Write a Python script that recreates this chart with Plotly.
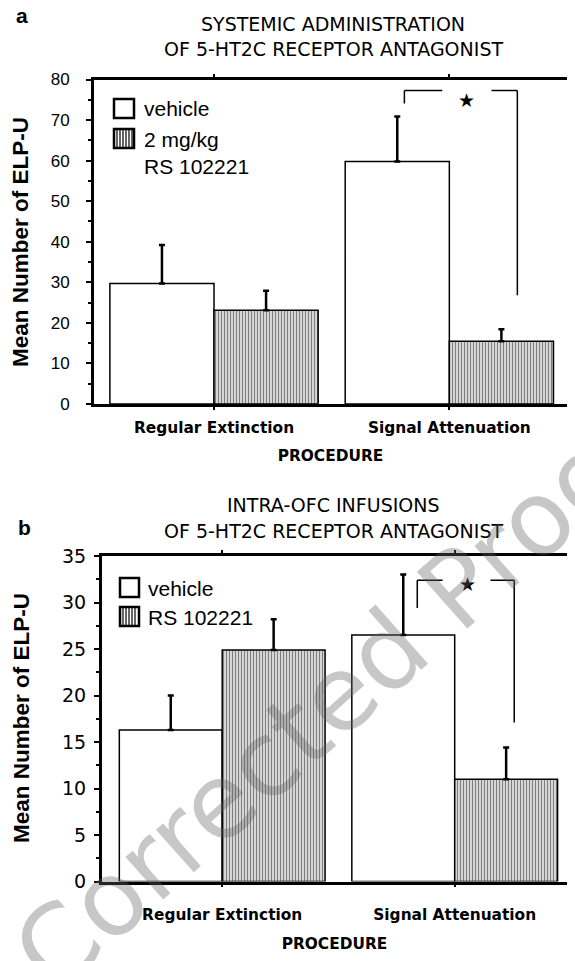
import plotly.graph_objects as go

# ---------------- data ----------------
categories = ["Regular Extinction", "Signal Attenuation"]

a_vehicle = [29.7, 59.8]
a_vehicle_err = [9.5, 11.1]
a_drug = [23.1, 15.5]
a_drug_err = [4.8, 2.9]

b_vehicle = [16.3, 26.5]
b_vehicle_err = [3.7, 6.5]
b_drug = [24.9, 11.0]
b_drug_err = [3.3, 3.4]

a_ticks = list(range(0, 81, 10))
b_ticks = list(range(0, 36, 5))

a_legend = ["vehicle", "2 mg/kg<br>RS 102221"]
b_legend = ["vehicle", "RS 102221"]

# significance brackets (x in category index units, y in data units)
a_bracket = dict(xl=0.809, xl2=0.970, xr2=1.179, xr=1.289, ytop=77.3, yl=74.1, yr=26.8, xs=1.072, ys=74.9)
b_bracket = dict(xl=0.839, xl2=0.948, xr2=1.154, xr=1.256, ytop=32.4, yl=29.4, yr=17.1, xs=1.056, ys=32.0)

W, H = 575, 961
BLACK = "black"
TICKFONT_A = dict(family="Liberation Sans, Arial", size=17, color=BLACK)
TICKFONT_B = dict(family="DejaVu Sans", size=19, color=BLACK)
CATFONT = dict(family="DejaVu Sans", size=15.4, color=BLACK, weight="bold")
TITLEFONT = dict(family="DejaVu Sans", size=19, color=BLACK)
LEGFONT = dict(family="Liberation Sans, Arial", size=21, color=BLACK)


def px_x(p):
    return p / W


def px_y(p):
    return 1 - p / H


fig = go.Figure()

stripe = dict(shape="|", size=3, solidity=0.55, fgcolor=BLACK, bgcolor="white")
err_style = dict(type="data", symmetric=False, color=BLACK, thickness=2.5, width=3)

fig.add_trace(go.Bar(x=categories, y=a_vehicle, name="vehicle", xaxis="x", yaxis="y",
                     marker=dict(color="white", line=dict(color=BLACK, width=1.5)),
                     error_y=dict(array=a_vehicle_err, arrayminus=[0, 0], **err_style)))
fig.add_trace(go.Bar(x=categories, y=a_drug, name="2 mg/kg RS 102221", xaxis="x", yaxis="y",
                     marker=dict(color="white", pattern=stripe, line=dict(color=BLACK, width=1.5)),
                     error_y=dict(array=a_drug_err, arrayminus=[0, 0], **err_style)))
fig.add_trace(go.Bar(x=categories, y=b_vehicle, name="vehicle", xaxis="x2", yaxis="y2",
                     marker=dict(color="white", line=dict(color=BLACK, width=1.5)),
                     error_y=dict(array=b_vehicle_err, arrayminus=[0, 0], **err_style)))
fig.add_trace(go.Bar(x=categories, y=b_drug, name="RS 102221", xaxis="x2", yaxis="y2",
                     marker=dict(color="white", pattern=stripe, line=dict(color=BLACK, width=1.5)),
                     error_y=dict(array=b_drug_err, arrayminus=[0, 0], **err_style)))

a_dom_x = [px_x(94), px_x(567)]
a_dom_y = [px_y(404), px_y(79.5)]
b_dom_x = [px_x(102), px_x(567)]
b_dom_y = [px_y(881.5), px_y(556)]

xcommon = dict(type="category", categoryarray=categories, showline=True, linewidth=2.5,
               linecolor=BLACK, mirror="ticks", ticks="outside", ticklen=3, tickwidth=1.5,
               tickcolor=BLACK, tickfont=CATFONT, showgrid=False, zeroline=False,
               automargin=False)
ycommon = dict(showline=True, linewidth=3, linecolor=BLACK, ticks="outside", ticklen=5,
               tickwidth=2, tickcolor=BLACK, showgrid=False,
               zeroline=False, automargin=False)
rcommon = dict(side="right", ticks="inside", ticklen=5, tickwidth=2, tickcolor=BLACK,
               showline=True, linewidth=3, linecolor=BLACK, showticklabels=False,
               showgrid=False, zeroline=False, automargin=False)

fig.update_layout(
    width=W, height=H, margin=dict(l=0, r=0, t=0, b=0, autoexpand=False),
    paper_bgcolor="white", plot_bgcolor="white", showlegend=False,
    barmode="group", bargap=0.115, bargroupgap=0,
    xaxis=dict(domain=a_dom_x, anchor="y", range=[-0.51, 1.50], ticklabelstandoff=5,
               title=dict(text="PROCEDURE", font=CATFONT, standoff=14), **xcommon),
    yaxis=dict(domain=a_dom_y, anchor="x", range=[0, 80], tickvals=a_ticks, tickfont=TICKFONT_A,
               minor=dict(dtick=5, ticks="outside", ticklen=3, tickwidth=2, tickcolor=BLACK),
               ticklabelstandoff=13, **ycommon),
    yaxis3=dict(overlaying="y", anchor="x", range=[0, 80], dtick=5, **rcommon),
    xaxis2=dict(domain=b_dom_x, anchor="y2", range=[-0.517, 1.483], ticklabelstandoff=14,
                title=dict(text="PROCEDURE", font=CATFONT, standoff=16), **xcommon),
    yaxis2=dict(domain=b_dom_y, anchor="x2", range=[0, 35], tickvals=b_ticks, tickfont=TICKFONT_B,
                minor=dict(dtick=2.5, ticks="outside", ticklen=3, tickwidth=2, tickcolor=BLACK),
                ticklabelstandoff=4, **ycommon),
    yaxis4=dict(overlaying="y2", anchor="x2", range=[0, 35], dtick=2.5, **rcommon),
)

shapes = []
for br, xr, yr in ((a_bracket, "x", "y"), (b_bracket, "x2", "y2")):
    line = dict(color=BLACK, width=1.5)
    shapes.append(dict(type="line", xref=xr, yref=yr, x0=br["xl"], x1=br["xl"], y0=br["yl"], y1=br["ytop"], line=line))
    shapes.append(dict(type="line", xref=xr, yref=yr, x0=br["xl"], x1=br["xl2"], y0=br["ytop"], y1=br["ytop"], line=line))
    shapes.append(dict(type="line", xref=xr, yref=yr, x0=br["xr2"], x1=br["xr"], y0=br["ytop"], y1=br["ytop"], line=line))
    shapes.append(dict(type="line", xref=xr, yref=yr, x0=br["xr"], x1=br["xr"], y0=br["ytop"], y1=br["yr"], line=line))


# legend swatches (drawn in pixel positions of the reference)
def swatch(x0, y0, x1, y1, striped):
    out = [dict(type="rect", xref="paper", yref="paper", x0=px_x(x0), x1=px_x(x1),
                y0=px_y(y1), y1=px_y(y0), fillcolor="white", line=dict(color=BLACK, width=2.5))]
    if striped:
        path = ""
        xx = x0 + 3
        while xx < x1 - 1:
            path += f"M{px_x(xx):.5f},{px_y(y0):.5f}L{px_x(xx):.5f},{px_y(y1):.5f}"
            xx += 3
        out.append(dict(type="path", xref="paper", yref="paper", path=path,
                        line=dict(color=BLACK, width=1.2)))
    return out


shapes += swatch(114, 99, 134, 118, False)
shapes += swatch(114, 129, 134, 148, True)
shapes += swatch(120, 578, 139, 597, False)
shapes += swatch(120, 607, 139, 626, True)
fig.update_layout(shapes=shapes)

ann = []


def text(x, y, t, font, **kw):
    d = dict(xref="paper", yref="paper", x=px_x(x), y=px_y(y), text=t, showarrow=False,
             font=font, xanchor=kw.pop("xanchor", "center"), yanchor=kw.pop("yanchor", "middle"))
    d.update(kw)
    ann.append(d)


# legend texts
text(142, 109, a_legend[0], LEGFONT, xanchor="left")
text(142, 153, a_legend[1], LEGFONT, xanchor="left", align="left")
text(146, 588, b_legend[0], LEGFONT, xanchor="left")
text(146, 617, b_legend[1], LEGFONT, xanchor="left")

# stars
ann.append(dict(xref="x", yref="y", x=a_bracket["xs"], y=a_bracket["ys"], text="★",
                showarrow=False, font=dict(family="DejaVu Sans", size=19, color=BLACK)))
ann.append(dict(xref="x2", yref="y2", x=b_bracket["xs"], y=b_bracket["ys"], text="★",
                showarrow=False, font=dict(family="DejaVu Sans", size=19, color=BLACK)))
# panel letters
text(22, 16, "<b>a</b>", dict(family="Liberation Sans, Arial", size=21, color=BLACK))
text(24, 527, "<b>b</b>", dict(family="Liberation Sans, Arial", size=21, color=BLACK))
# panel titles
for t, yc in (("SYSTEMIC ADMINISTRATION", 23.5), ("OF 5-HT2C RECEPTOR ANTAGONIST", 48.5),
              ("INTRA-OFC INFUSIONS", 504.5), ("OF 5-HT2C RECEPTOR ANTAGONIST", 530.5)):
    text(333, yc, t, TITLEFONT)
# y titles
YT = dict(family="Liberation Sans, Arial", size=22.5, color=BLACK)
text(21, 242, "<b>Mean Number of ELP-U</b>", YT, textangle=-90)
text(21, 718, "<b>Mean Number of ELP-U</b>", YT, textangle=-90)
# watermark
text(333, 700, "Corrected Proof", dict(family="DejaVu Sans", size=104, color="rgba(100,100,100,0.36)"),
     textangle=-41.7)
fig.update_layout(annotations=ann)

fig.write_html("out.html", config={"displayModeBar": False},
               post_script="document.body.style.margin='0px';")
